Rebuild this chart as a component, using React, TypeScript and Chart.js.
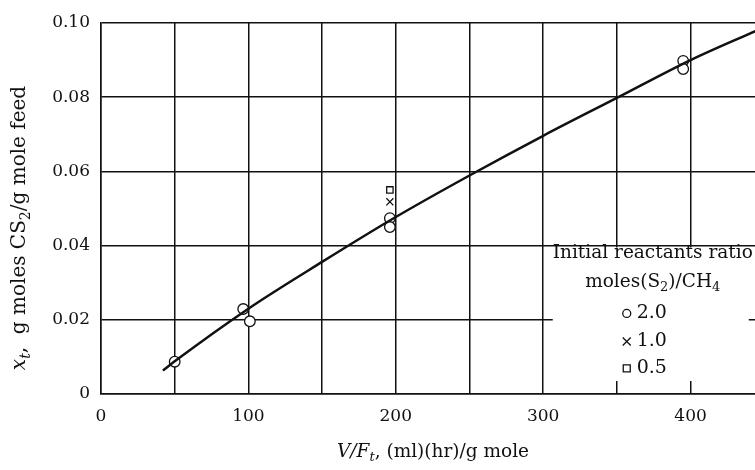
import React, { useEffect, useRef } from "react";
import { Chart, registerables } from "chart.js";

Chart.register(...registerables);

// Smooth correlation curve x_t vs V/F_t
const curveX = [42, 50, 100, 150, 200, 250, 300, 350, 400, 445];
const curveY = [0.0063, 0.0088, 0.023, 0.0356, 0.0477, 0.0589, 0.0696, 0.0798, 0.09, 0.098];

// Experimental points, grouped by initial S2/CH4 ratio
const ratio20X = [50, 96.5, 101, 196, 196, 395, 395];
const ratio20Y = [0.0087, 0.0229, 0.0196, 0.0474, 0.045, 0.0898, 0.0876];
const ratio10X = [196];
const ratio10Y = [0.0518];
const ratio05X = [196];
const ratio05Y = [0.055];

const legendTitle = "Initial reactants ratio";
const legendRatios = ["2.0", "1.0", "0.5"];
const xTicks = [0, 100, 200, 300, 400];

const FONT = "'DejaVu Serif', 'Liberation Serif', serif";

// the plot runs off the right edge of the figure
const VIEW_W = 755;
const CANVAS_W = 762;
const CANVAS_H = 470;

type Seg = { t: string; i?: boolean; sub?: boolean };

function segFont(s: Seg, size: number) {
  const sz = s.sub ? Math.round(size * 0.68) : size;
  return `${s.i ? "italic " : ""}${sz}px ${FONT}`;
}

// Draws a run of text pieces (italic / subscript) centred on (x, y)
function drawRich(ctx: CanvasRenderingContext2D, segs: Seg[], x: number, y: number, size: number) {
  let total = 0;
  const widths = segs.map((s) => {
    ctx.font = segFont(s, size);
    const w = ctx.measureText(s.t).width;
    total += w;
    return w;
  });
  let cx = x - total / 2;
  ctx.textBaseline = "middle";
  ctx.textAlign = "left";
  segs.forEach((s, k) => {
    ctx.font = segFont(s, size);
    ctx.fillText(s.t, cx, s.sub ? y + size * 0.3 : y);
    cx += widths[k];
  });
}

const pts = (xs: number[], ys: number[]) => xs.map((x, k) => ({ x, y: ys[k] }));

const figureText = {
  id: "figureText",
  afterDraw(chart: any) {
    const ctx: CanvasRenderingContext2D = chart.ctx;
    const xs = chart.scales.x;
    const ys = chart.scales.y;
    ctx.save();
    ctx.fillStyle = "#111";
    ctx.strokeStyle = "#111";

    // legend panel, blanking the grid behind it
    const bx0 = xs.getPixelForValue(306.5);
    const bx1 = xs.getPixelForValue(439.5);
    const by0 = ys.getPixelForValue(0.0395);
    const by1 = ys.getPixelForValue(0.0035);
    ctx.fillStyle = "#fff";
    ctx.fillRect(bx0, by0, bx1 - bx0, by1 - by0);
    ctx.fillStyle = "#111";

    const lx = bx0 + 100;
    drawRich(ctx, [{ t: legendTitle }], lx, by0 + 6, 18.5);
    drawRich(
      ctx,
      [{ t: "moles(S" }, { t: "2", sub: true }, { t: ")/CH" }, { t: "4", sub: true }],
      lx,
      by0 + 35,
      18.5
    );
    const mx = lx - 26;
    const rowY = [by0 + 66, by0 + 94, by0 + 121];
    ctx.lineWidth = 1.3;
    legendRatios.forEach((r, k) => {
      const yy = rowY[k];
      ctx.beginPath();
      if (k === 0) {
        ctx.arc(mx, yy, 4, 0, Math.PI * 2);
      } else if (k === 1) {
        ctx.moveTo(mx - 4, yy - 4);
        ctx.lineTo(mx + 4, yy + 4);
        ctx.moveTo(mx + 4, yy - 4);
        ctx.lineTo(mx - 4, yy + 4);
      } else {
        ctx.rect(mx - 3.5, yy - 3.5, 7, 7);
      }
      ctx.stroke();
      ctx.font = `19px ${FONT}`;
      ctx.textAlign = "left";
      ctx.textBaseline = "middle";
      ctx.fillText(r, mx + 10, yy);
    });

    // axis titles
    drawRich(
      ctx,
      [{ t: "V/F", i: true }, { t: "t", i: true, sub: true }, { t: ", (ml)(hr)/g mole" }],
      433,
      452,
      18.5
    );
    ctx.save();
    ctx.translate(20, 228);
    ctx.rotate(-Math.PI / 2);
    drawRich(
      ctx,
      [
        { t: "x", i: true },
        { t: "t", i: true, sub: true },
        { t: ",  g moles CS" },
        { t: "2", sub: true },
        { t: "/g mole feed" },
      ],
      0,
      0,
      20
    );
    ctx.restore();
    ctx.restore();
  },
};

export default function App() {
  const ref = useRef<HTMLCanvasElement | null>(null);

  useEffect(() => {
    if (!ref.current) return;
    const chart = new Chart(ref.current, {
      type: "scatter",
      data: {
        datasets: [
          {
            data: pts(curveX, curveY),
            showLine: true,
            borderColor: "#111",
            borderWidth: 2.5,
            pointRadius: 0,
            cubicInterpolationMode: "monotone",
          },
          {
            data: pts(ratio20X, ratio20Y),
            pointStyle: "circle",
            pointRadius: 5.3,
            backgroundColor: "#fff",
            borderColor: "#111",
            borderWidth: 1.3,
          },
          {
            data: pts(ratio10X, ratio10Y),
            pointStyle: "crossRot",
            pointRadius: 5,
            borderColor: "#111",
            borderWidth: 1.3,
          },
          {
            data: pts(ratio05X, ratio05Y),
            pointStyle: "rect",
            pointRadius: 4.5,
            backgroundColor: "#fff",
            borderColor: "#111",
            borderWidth: 1.3,
          },
        ],
      } as any,
      options: {
        animation: false,
        responsive: false,
        devicePixelRatio: 1,
        events: [],
        layout: { padding: { top: 23, right: 0, left: 0, bottom: 0 } },
        plugins: { legend: { display: false }, tooltip: { enabled: false } },
        scales: {
          x: {
            type: "linear",
            min: 0,
            max: 444,
            afterFit: (s: any) => {
              s.height = 76;
            },
            ticks: {
              stepSize: 50,
              includeBounds: false,
              padding: 12,
              color: "#111",
              font: { family: FONT, size: 17 },
              autoSkip: false,
              maxRotation: 0,
              callback: (v: any) => (xTicks.includes(Number(v)) ? String(v) : ""),
            },
            grid: { color: "#111", lineWidth: 1.5, drawTicks: false },
            border: { color: "#111", width: 1.5 },
          },
          y: {
            type: "linear",
            min: 0,
            max: 0.1,
            afterFit: (s: any) => {
              s.width = 101;
            },
            ticks: {
              stepSize: 0.02,
              padding: 11,
              color: "#111",
              font: { family: FONT, size: 17 },
              callback: (v: any) => (Number(v) === 0 ? "0" : Number(v).toFixed(2)),
            },
            grid: { color: "#111", lineWidth: 1.5, drawTicks: false },
            border: { color: "#111", width: 1.5 },
          },
        },
      } as any,
      plugins: [figureText],
    });
    return () => chart.destroy();
  }, []);

  return (
    <div
      style={{
        position: "fixed",
        left: 0,
        top: 0,
        width: VIEW_W,
        height: CANVAS_H,
        overflow: "hidden",
        background: "#fff",
      }}
    >
      <canvas ref={ref} width={CANVAS_W} height={CANVAS_H} style={{ display: "block" }} />
    </div>
  );
}
